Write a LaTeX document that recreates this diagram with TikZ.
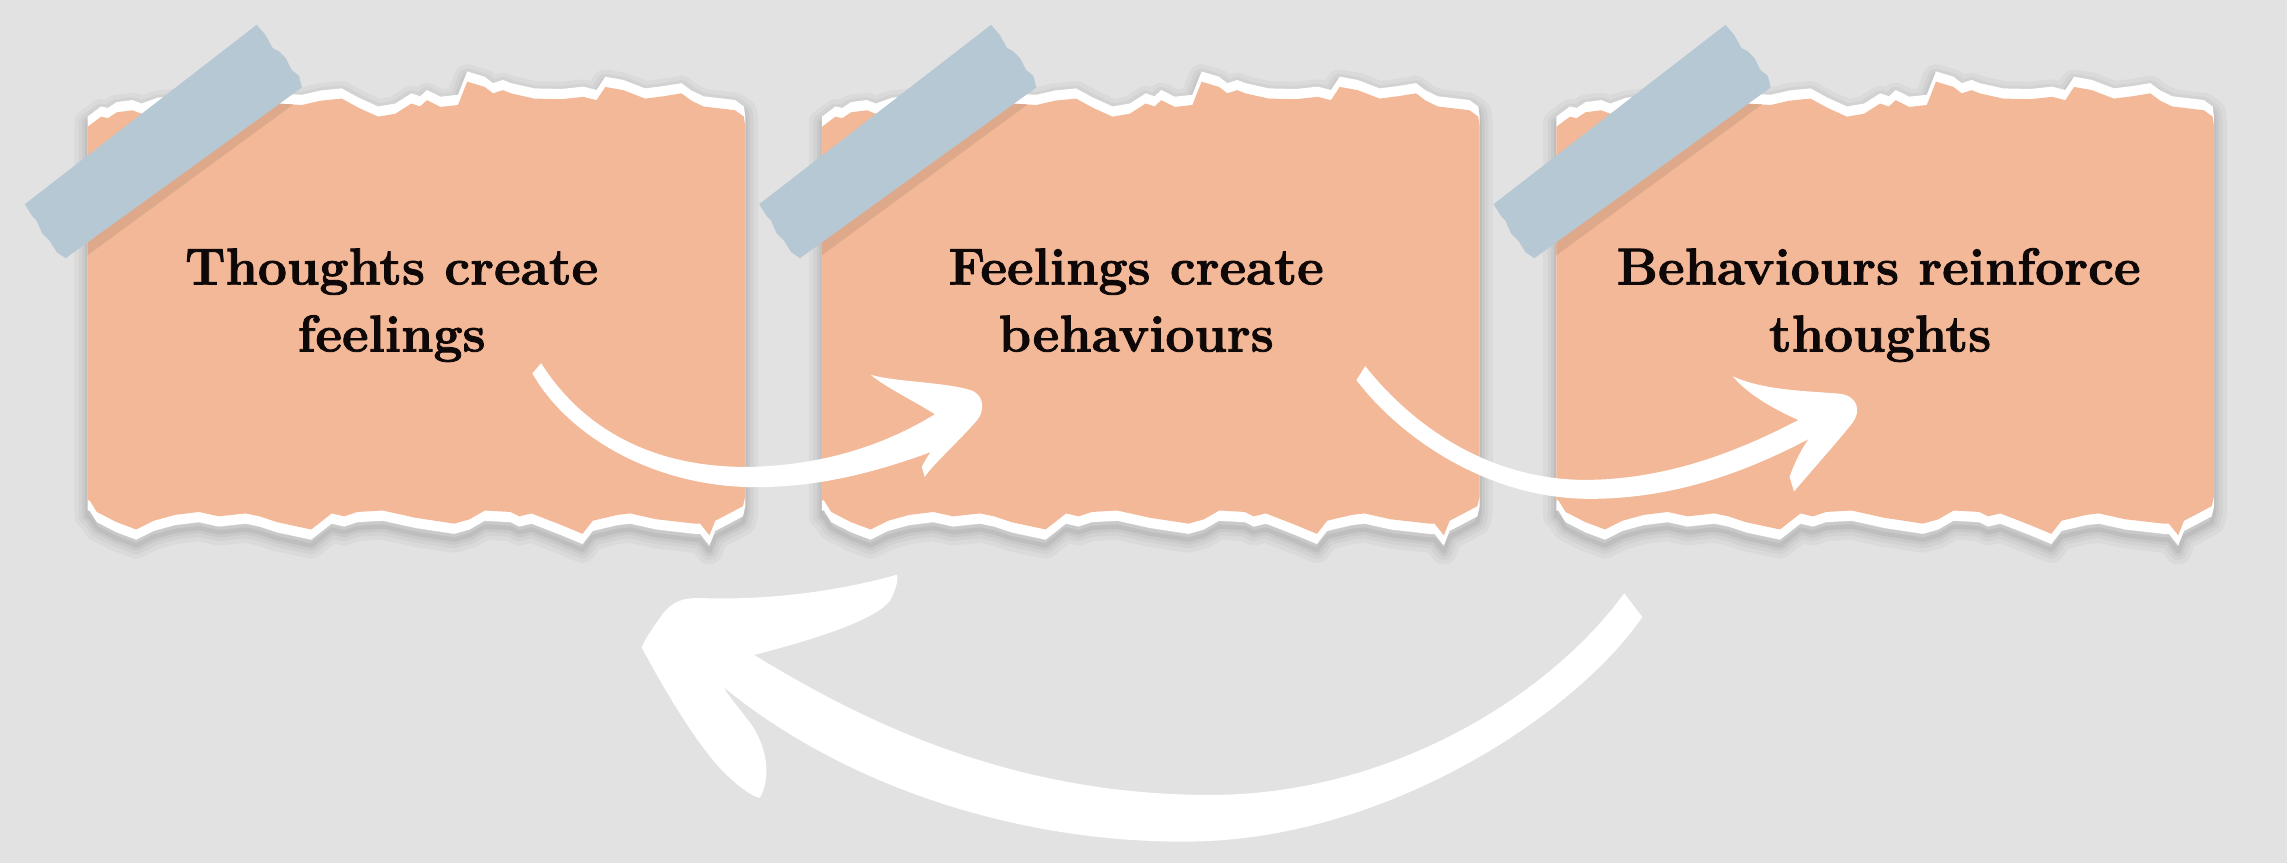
\documentclass[tikz,border=0pt]{standalone}
\usepackage{fontspec}
\setmainfont{Latin Modern Roman}[BoldFeatures={FakeBold=1.6}]
\definecolor{bg}{HTML}{E2E2E2}
\definecolor{paper}{HTML}{F2B897}
\definecolor{tape}{HTML}{B5C8D4}
\definecolor{tapeshadow}{HTML}{DDA98A}
\definecolor{ink}{HTML}{0E0808}
\def\noteshape{(0,80) -- (1.3,79) -- (9.3,73) -- (14,74) -- (20,70) -- (30.8,68.6) -- (37,71) -- (48,67) -- (58,66) -- (75,64) -- (95,66) -- (115,62) -- (130,64) -- (147,65) -- (160,62) -- (174.3,60.6) -- (186,67) -- (199.3,73) -- (211,71) -- (222,64) -- (228,66) -- (232.7,61.7) -- (242,66.3) -- (254,65) -- (260.3,49) -- (272.3,52.6) -- (278,57) -- (284.8,54.8) -- (290.3,57) -- (306.3,60.6) -- (325,61) -- (340,59.4) -- (349,61.7) -- (355,52.6) -- (367.3,54.8) -- (382.3,60.6) -- (395,59) -- (407.3,57) -- (414,62) -- (422.3,66) -- (444,68.6) -- (450,73) -- (451,80) -- (451,347) -- (449.4,354) -- (440,359) -- (430.4,364) -- (426.4,374) -- (420,366) -- (416.4,366) -- (390,363) -- (372,359) -- (363.4,360) -- (346.4,364) -- (339.4,373) -- (325,367) -- (304.4,359) -- (296,361) -- (290,358) -- (272.4,357) -- (262,363) -- (251.4,366) -- (225,362) -- (202.4,357) -- (185,358) -- (176,361) -- (167.4,359) -- (153.4,370) -- (130,365) -- (118,361) -- (108.4,359) -- (90,361) -- (76.4,358) -- (60,360) -- (45.4,364) -- (33.4,370) -- (20,365) -- (6.4,358) -- (1.4,350) -- (0,350) -- cycle}
\def\tapeshape{(-43,140) -- (-38,148) -- (-35,151) -- (-31,160) -- (-26,165) -- (-21,173) -- (-15,177) -- (147,60) -- (145,52) -- (140,48) -- (136,40) -- (131,35) -- (127,33) -- (122,24) -- (116,17) -- cycle}
\tikzset{
  lbl/.style={font=\fontsize{35.5}{48}\selectfont\bfseries, text=ink, inner sep=0pt, anchor=base},
  brush/.style={fill=white, draw=none}
}
\begin{document}
\begin{tikzpicture}[x=1pt,y=-1pt]
\fill[bg] (0,0) rectangle (1568,592);
\useasboundingbox (0,0) rectangle (1568,592);
% notes
\foreach \nx/\nm in {60/n1, 563.5/n2, 1067/n3} {
  \begin{scope}[shift={(\nx,0)}]
    \foreach \w/\o in {18/0.03,12/0.035,7/0.04,3/0.05} {
      \draw[line width=\w pt, black, opacity=\o, line join=round, shift={(0,4)}] \noteshape;
    }
    \fill[white] \noteshape;
    \begin{scope}
      \clip[shift={(0,7)}] \noteshape;
      \clip[shift={(0,-7)}] \noteshape;
      \fill[paper] \noteshape;
      \fill[tapeshadow] (0,166) -- (147,60) -- (150,65) -- (0,175) -- cycle;
    \end{scope}
    \coordinate (\nm) at (225,210);
    \fill[tape] \tapeshape;
  \end{scope}
}
% texts
\node[lbl] (t1a) at (268.5,195) {Thoughts create};
\node[lbl] (t1b) at (268.5,241) {feelings};
\node[lbl] (t2a) at (779,195) {Feelings create};
\node[lbl] (t2b) at (779,241) {behaviours};
\node[lbl] (t3a) at (1288,195) {Behaviours reinforce};
\node[lbl] (t3b) at (1289,241) {thoughts};
% arrow 1 (note 1 -> note 2)
\fill[brush] (371,249) .. controls (400,295) and (450,322) .. (518,320)
  .. controls (570,318) and (610,303) .. (641,284)
  .. controls (625,274) and (608,266) .. (597,257)
  .. controls (615,262) and (650,262) .. (667,268)
  .. controls (675,272) and (675,282) .. (670,288)
  .. controls (655,305) and (640,318) .. (634,327)
  -- (632,320) .. controls (634,316) and (636,313) .. (638,310)
  .. controls (605,322) and (565,334) .. (518,334)
  .. controls (450,334) and (390,300) .. (365,256) -- cycle;
% arrow 2 (note 2 -> note 3)
\fill[brush] (936,251) .. controls (975,300) and (1030,330) .. (1090,329)
  .. controls (1150,328) and (1200,305) .. (1233,288)
  .. controls (1215,280) and (1198,270) .. (1188,258)
  .. controls (1210,268) and (1240,268) .. (1262,270)
  .. controls (1274,272) and (1276,282) .. (1270,290)
  .. controls (1258,305) and (1240,325) .. (1230,337)
  -- (1227,327) .. controls (1230,318) and (1235,308) .. (1240,301)
  .. controls (1200,322) and (1150,342) .. (1090,342)
  .. controls (1020,342) and (960,300) .. (930,260.6) -- cycle;
% big return arrow (note 3 -> note 1)
\fill[brush] (1113.6,406.8) .. controls (1060,480) and (950,545) .. (830,545)
  .. controls (700,545) and (600,500) .. (517,449)
  .. controls (560,438) and (600,425) .. (610,412)
  .. controls (614,405) and (616,398) .. (615,394)
  .. controls (580,404) and (530,412) .. (480,410)
  .. controls (468,410) and (462,412) .. (455,420)
  .. controls (448,430) and (442,438) .. (440,444)
  .. controls (455,472) and (480,515) .. (500,533)
  .. controls (510,542) and (516,546) .. (521,547)
  .. controls (528,535) and (527,515) .. (516,498)
  .. controls (508,487) and (500,478) .. (496,471)
  .. controls (580,540) and (700,578) .. (815,577)
  .. controls (950,576) and (1080,490) .. (1126,423) -- cycle;
\end{tikzpicture}
\end{document}
